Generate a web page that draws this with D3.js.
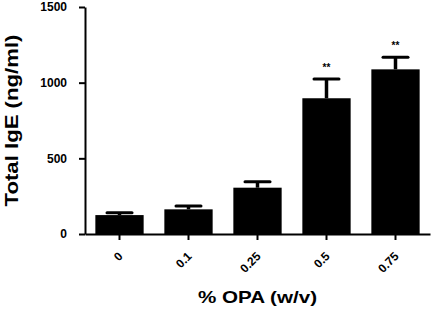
<!DOCTYPE html>
<html>
<head>
<meta charset="utf-8">
<script src="https://cdn.jsdelivr.net/npm/d3@7"></script>
<style>
  body { margin: 0; background: #fff; }
  text { font-family: "Liberation Sans", Arial, sans-serif; font-weight: bold; }
</style>
</head>
<body>
<svg id="chart" width="433" height="312"></svg>
<script>
// values
const doses = ["0", "0.1", "0.25", "0.5", "0.75"];
const means = [125, 163, 306, 897, 1088];
const sems = [15, 22, 40, 127, 80];
const marks = ["", "", "", "**", "**"];
const yTicks = [0, 500, 1000, 1500];

const svg = d3.select('#chart');
const margin = { top: 7, bottom: 78, left: 85, right: 3 };
const width = 433, height = 312;

const x = d3.scaleBand()
    .domain(doses)
    .range([margin.left, width - margin.right])
    .paddingInner(0.3)
    .paddingOuter(0.15);

const y = d3.scaleLinear()
    .domain([0, 1500])
    .range([height - margin.bottom, margin.top]);

const rows = doses.map((d, i) => ({ dose: d, mean: means[i], sem: sems[i], mark: marks[i] }));

// bars
svg.append('g').selectAll('rect')
    .data(rows)
    .join('rect')
    .attr('x', d => x(d.dose))
    .attr('y', d => y(d.mean))
    .attr('width', x.bandwidth())
    .attr('height', d => y(0) - y(d.mean))
    .attr('fill', '#000');

// upper error bars + significance stars
const err = svg.append('g');
rows.forEach(d => {
    const cx = x(d.dose) + x.bandwidth() / 2;
    err.append('line')
        .attr('x1', cx).attr('x2', cx)
        .attr('y1', y(d.mean)).attr('y2', y(d.mean + d.sem))
        .attr('stroke', '#000').attr('stroke-width', 3.5);
    err.append('line')
        .attr('x1', cx - 12.5).attr('x2', cx + 12.5)
        .attr('y1', y(d.mean + d.sem)).attr('y2', y(d.mean + d.sem))
        .attr('stroke', '#000').attr('stroke-width', 3)
        .attr('stroke-linecap', 'round');
    if (d.mark) {
        err.append('text')
            .attr('x', cx)
            .attr('y', y(d.mean + d.sem) - 8)
            .attr('text-anchor', 'middle')
            .style('font-size', '10px')
            .text(d.mark);
    }
});

// y axis
const yAxis = svg.append('g')
    .attr('transform', `translate(${margin.left},0)`);
yAxis.call(d3.axisLeft(y).tickValues(yTicks).tickFormat(d3.format('d'))
    .tickSize(6).tickSizeOuter(0).tickPadding(12));
yAxis.attr('font-size', 12);
yAxis.selectAll('path').attr('stroke-width', 2);
yAxis.selectAll('line').attr('stroke-width', 2);

// x axis (ticks only, rotated labels drawn below)
const xAxis = svg.append('g')
    .attr('transform', `translate(0,${y(0)})`);
xAxis.call(d3.axisBottom(x).tickSize(6).tickSizeOuter(0).tickFormat(''));
xAxis.selectAll('path').attr('stroke-width', 2);
xAxis.selectAll('line').attr('stroke-width', 2);

svg.append('g').selectAll('text')
    .data(doses)
    .join('text')
    .attr('text-anchor', 'end')
    .attr('transform', d => `translate(${x(d) + x.bandwidth() / 2 + 4},${y(0) + 23}) rotate(-45)`)
    .style('font-size', '12px')
    .text(d => d);

// axis titles
svg.append('text')
    .attr('transform', `translate(17.5,${(y(0) + y(1500)) / 2}) rotate(-90)`)
    .attr('text-anchor', 'middle')
    .attr('textLength', 172)
    .attr('lengthAdjust', 'spacingAndGlyphs')
    .style('font-size', '18px')
    .text('Total IgE (ng/ml)');

svg.append('text')
    .attr('x', (margin.left + width - margin.right) / 2)
    .attr('y', 303)
    .attr('text-anchor', 'middle')
    .attr('textLength', 119)
    .attr('lengthAdjust', 'spacingAndGlyphs')
    .style('font-size', '17px')
    .text('% OPA (w/v)');
</script>
</body>
</html>
